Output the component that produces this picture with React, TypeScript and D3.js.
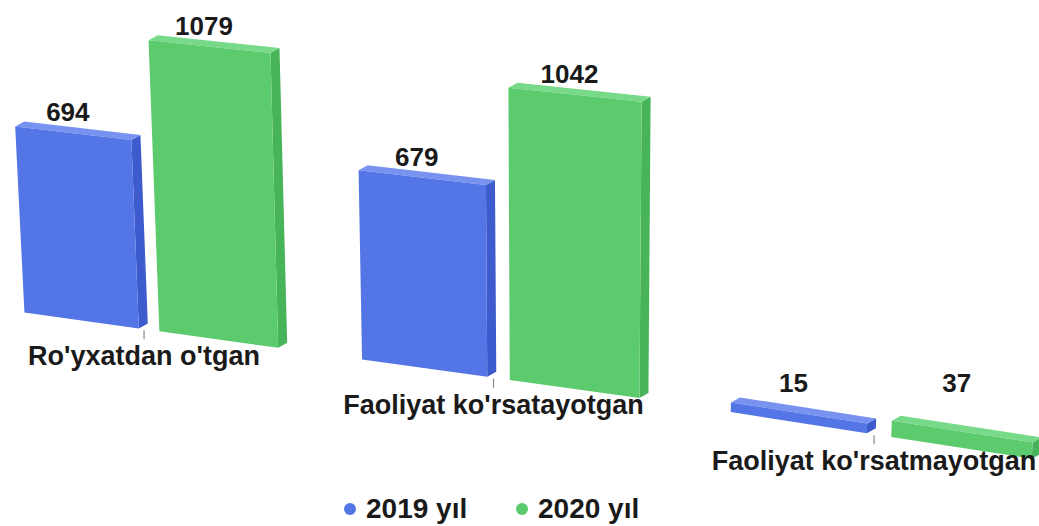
import React, { useEffect, useRef } from 'react';
import * as d3 from 'd3';

// data
const categories = ["Ro'yxatdan o'tgan", "Faoliyat ko'rsatayotgan", "Faoliyat ko'rsatmayotgan"];
const seriesKeys = ['2019', '2020'];
const seriesLabels = ['2019 yıl', '2020 yıl'];
const values2019 = [694, 679, 15];
const values2020 = [1079, 1042, 37];

const W = 1039;
const H = 526;

const palette: Record<string, { front: string; side: string; top: string }> = {
  '2019': { front: '#5475e6', side: '#3d5bcc', top: '#7892ef' },
  '2020': { front: '#5ccb6e', side: '#47b45a', top: '#78d989' },
};

type Bar = { cat: string; key: string; value: number };

const App: React.FC = () => {
  const svgRef = useRef<SVGSVGElement>(null);

  useEffect(() => {
    const svg = d3.select(svgRef.current);
    svg.selectAll('*').remove(); // limpa

    const font = "'Liberation Sans', Arial, sans-serif";

    const bars: Bar[] = categories.flatMap((c, i) => [
      { cat: c, key: '2019', value: values2019[i] },
      { cat: c, key: '2020', value: values2020[i] },
    ]);

    // floor position 0..1
    const x0 = d3.scaleBand().domain(categories).range([0, 1]).paddingInner(0.24).paddingOuter(0.12);
    const x1 = d3.scaleBand().domain(seriesKeys).range([0, x0.bandwidth()]).paddingInner(0.15);
    // columns have a small thickness even at zero
    const y = d3.scaleLinear().domain([0, 1100]).range([5, 292]);

    // the picture is drawn in perspective: floor drops to the right, columns lean
    const floorX = (u: number) => -14 + 955 * u + 140 * u * u;
    const floorY = d3.scaleLinear().domain([20, 640, 1040]).range([312, 398, 460]);
    const grow = d3.scaleLinear().domain([20, 640]).range([1, 1.07]);
    const lean = d3.scaleLinear().domain([20, 560]).range([-0.05, 0]);
    const depth: [number, number] = [9, -5];

    const project = (u: number, v: number): [number, number] => {
      const sx = floorX(u);
      const h = y(v) * grow(sx);
      return [sx + lean(sx) * h, floorY(sx) - h];
    };
    const back = (p: [number, number]): [number, number] => [p[0] + depth[0], p[1] + depth[1]];
    const poly = (pts: [number, number][]) => 'M' + pts.map(p => p.join(',')).join('L') + 'Z';

    const g = svg.append('g');

    bars.forEach(b => {
      const uL = x0(b.cat)! + x1(b.key)!;
      const uR = uL + x1.bandwidth();
      const BL = project(uL, 0);
      const BR = project(uR, 0);
      const TL = project(uL, b.value);
      const TR = project(uR, b.value);
      // bottom corners sit on the floor
      BL[1] = floorY(floorX(uL));
      BR[1] = floorY(floorX(uR));
      BL[0] = floorX(uL);
      BR[0] = floorX(uR);
      const col = palette[b.key];

      const bar = g.append('g');
      bar.append('path').attr('d', poly([TR, BR, back(BR), back(TR)])).attr('fill', col.side);
      bar.append('path').attr('d', poly([TL, TR, back(TR), back(TL)])).attr('fill', col.top);
      bar.append('path').attr('d', poly([TL, TR, BR, BL])).attr('fill', col.front);

      // value label
      const [cx, ty] = project(uL + x1.bandwidth() / 2, b.value);
      const floorTop = floorY(floorX(x0(b.cat)!)) - 20;
      g.append('text')
        .attr('x', cx - 5)
        .attr('y', Math.min(ty - 12, floorTop))
        .attr('text-anchor', 'middle')
        .attr('fill', '#1a1a1a')
        .style('font-family', font)
        .style('font-weight', 'bold')
        .style('font-size', '26px')
        .text(b.value);
    });

    // ticks + category labels
    categories.forEach(c => {
      const sx = floorX(x0(c)! + x0.bandwidth() / 2) - 5;
      const fy = floorY(sx);
      g.append('line')
        .attr('x1', sx).attr('x2', sx)
        .attr('y1', fy + 1).attr('y2', fy + 10)
        .attr('stroke', '#8a8a8a')
        .attr('stroke-width', 1.2);
      g.append('text')
        .attr('x', sx)
        .attr('y', fy + 36)
        .attr('text-anchor', 'middle')
        .attr('fill', '#1a1a1a')
        .style('font-family', font)
        .style('font-weight', 'bold')
        .style('font-size', '27px')
        .text(c);
    });

    // legend
    const legendStart = 350;
    const legendStep = 172;
    const legend = svg.append('g').attr('transform', `translate(0,${H - 8})`);
    seriesKeys.forEach((k, i) => {
      const lx = legendStart + i * legendStep;
      legend.append('circle').attr('cx', lx).attr('cy', -9).attr('r', 6).attr('fill', palette[k].front);
      legend.append('text')
        .attr('x', lx + 16)
        .attr('y', 0)
        .attr('fill', '#1a1a1a')
        .style('font-family', font)
        .style('font-weight', 'bold')
        .style('font-size', '28px')
        .text(seriesLabels[i]);
    });
  }, []);

  return (
    <svg
      ref={svgRef}
      width={W}
      height={H}
      style={{ position: 'absolute', left: 0, top: 0, background: '#fff' }}
    />
  );
};

export default App;
